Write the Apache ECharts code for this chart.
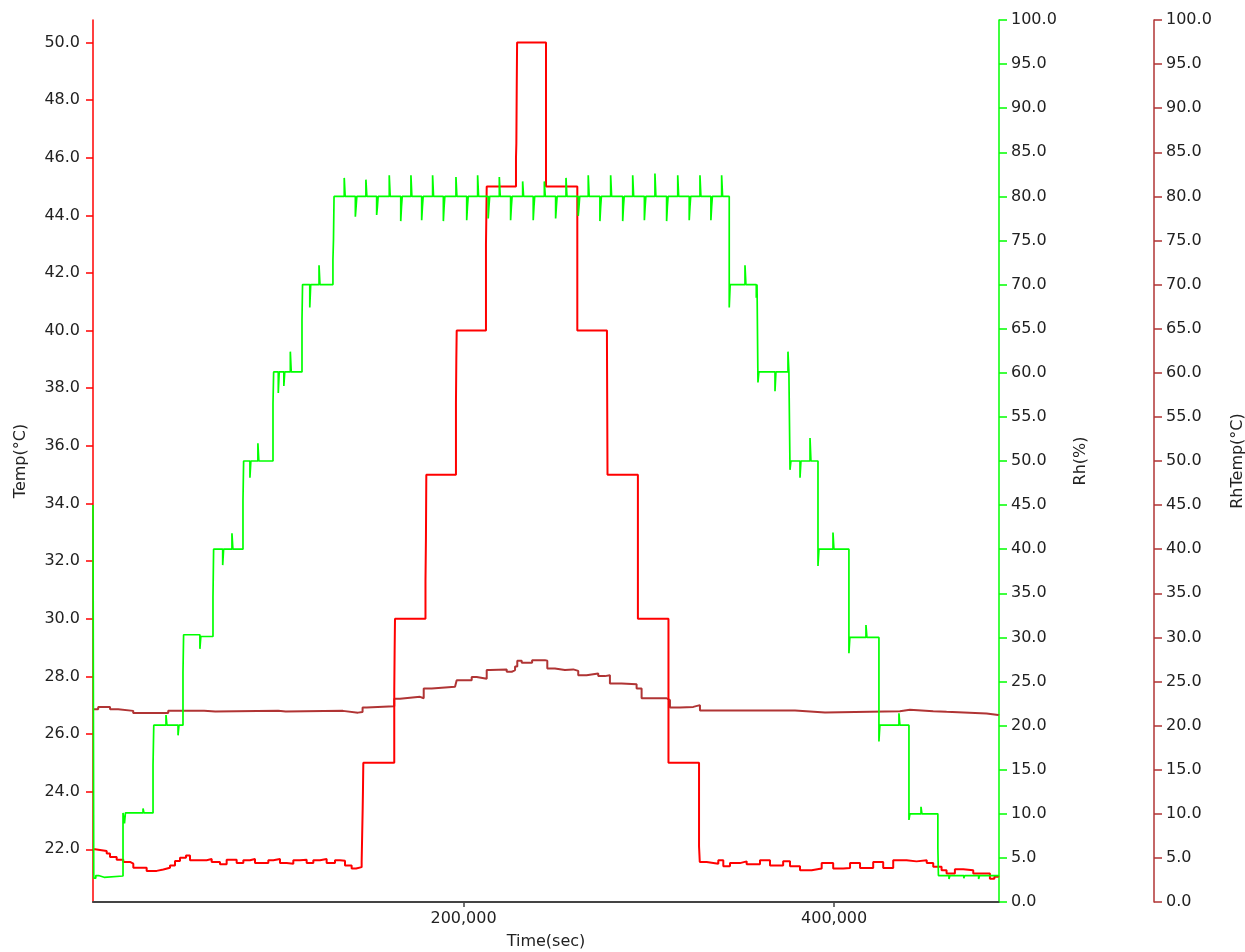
<!DOCTYPE html>
<html>
<head>
<meta charset="utf-8">
<script src="https://cdn.jsdelivr.net/npm/echarts@6.0.0/dist/echarts.min.js"></script>
<style>
  html, body { margin: 0; padding: 0; background: #ffffff; }
  #chart { width: 1245px; height: 952px; }
</style>
</head>
<body>
<div id="chart"></div>
<script>
// Chamber log: [time (s), value]; each value holds until the next sample.
const tempData = [
  [0, 22.0], [1080, 21.94], [7390, 21.85], [9170, 21.73], [12780, 21.64], [16370, 21.56],
  [19970, 21.5], [21760, 21.36], [28970, 21.25], [34370, 21.3], [37970, 21.36], [41560, 21.44],
  [44260, 21.59], [46950, 21.71], [50190, 21.78], [52350, 21.62], [61360, 21.66], [64060, 21.56],
  [68540, 21.48], [72140, 21.64], [77540, 21.52], [81140, 21.62], [84730, 21.66], [87430, 21.52],
  [94630, 21.62], [97330, 21.66], [100930, 21.52], [104530, 21.5], [108120, 21.62], [111720, 21.64],
  [115320, 21.52], [118920, 21.62], [122510, 21.66], [126110, 21.52], [130610, 21.62], [133310, 21.6],
  [136000, 21.44], [139600, 21.33], [142000, 21.38], [145000, 21.56],
  [145550, 23.4], [145700, 24.0], [145900, 25.0],
  [162600, 27.5], [162800, 28.9], [163000, 30.0],
  [179450, 31.3], [179700, 32.8], [179900, 35.0],
  [195900, 37.5], [196100, 39.0], [196300, 40.0],
  [212100, 43.0], [212300, 44.0], [212500, 45.0],
  [228300, 46.0], [228500, 46.5], [228700, 48.4], [228900, 50.0],
  [244500, 45.0],
  [261400, 40.0],
  [277400, 39.6], [277700, 35.0],
  [294100, 30.0],
  [310600, 25.0],
  [327100, 22.1], [327500, 21.56],
  [331200, 21.5], [337500, 21.62], [340200, 21.41], [343800, 21.52], [349200, 21.58], [352800, 21.48],
  [360000, 21.62], [365400, 21.44], [372500, 21.58], [376200, 21.41], [381600, 21.27], [387900, 21.33],
  [393300, 21.52], [399500, 21.33], [404900, 21.35], [408600, 21.52], [414000, 21.35], [421100, 21.56],
  [426500, 21.35], [431900, 21.62], [439100, 21.58], [444500, 21.62], [450000, 21.52], [453500, 21.39],
  [458000, 21.27], [460700, 21.16], [465200, 21.31], [469700, 21.27], [475100, 21.16], [480500, 21.16],
  [484100, 20.98], [486500, 21.05], [488600, 21.1]
];

const rhData = [
  [0, 45.0], [400, 2.7], [1500, 3.0], [3000, 2.8], [6000, 2.95],
  [16200, 10.1], [17000, 8.9], [17500, 10.1], [27000, 10.6], [27500, 10.1],
  [32400, 15.5], [32800, 20.05], [39400, 21.2], [39900, 20.05], [45900, 18.9], [46400, 20.05],
  [48570, 26.0], [48900, 30.3], [57700, 28.7], [58200, 30.1],
  [64760, 34.5], [65100, 40.0], [70000, 38.2], [70500, 40.0], [75000, 41.8], [75500, 40.0],
  [80950, 45.5], [81300, 50.0], [84700, 48.1], [85200, 50.0], [89000, 52.0], [89500, 50.0],
  [97150, 56.5], [97500, 60.1], [100000, 57.7], [100500, 60.1], [103000, 58.5], [103500, 60.1],
  [106500, 62.4], [107000, 60.1],
  [112800, 66.0], [113100, 70.0], [117000, 67.4], [117500, 70.0], [122000, 72.2], [122500, 70.0],
  [129500, 72.8], [129800, 75.1], [130100, 80.0],
  [135600, 82.1], [136100, 80.0], [141600, 77.7], [142000, 78.8], [142400, 80.0],
  [147300, 81.9], [147800, 80.0], [153100, 77.9], [153500, 78.8], [153900, 80.0],
  [159900, 82.4], [160400, 80.0], [166100, 77.2], [166500, 78.8], [166900, 80.0],
  [171600, 82.4], [172100, 80.0], [177400, 77.3], [177800, 78.8], [178200, 80.0],
  [183300, 82.4], [183800, 80.0], [189100, 77.2], [189500, 78.8], [189900, 80.0],
  [195900, 82.2], [196400, 80.0], [201700, 77.3], [202100, 78.8], [202500, 80.0],
  [207600, 82.4], [208100, 80.0], [213300, 77.5], [213700, 78.8], [214100, 80.0],
  [219300, 82.2], [219800, 80.0], [225400, 77.3], [225800, 78.8], [226200, 80.0],
  [231900, 81.7], [232400, 80.0], [237600, 77.3], [238000, 78.8], [238400, 80.0],
  [243600, 81.7], [244100, 80.0], [249700, 77.5], [250100, 78.8], [250500, 80.0],
  [255300, 82.1], [255800, 80.0], [261900, 77.8], [262300, 78.8], [262700, 80.0],
  [267300, 82.4], [267800, 80.0], [273600, 77.2], [274000, 78.8], [274400, 80.0],
  [279400, 82.4], [279900, 80.0], [285900, 77.2], [286300, 78.8], [286700, 80.0],
  [291300, 82.4], [291800, 80.0], [297600, 77.3], [298000, 78.8], [298400, 80.0],
  [303300, 82.6], [303800, 80.0], [309600, 77.2], [310000, 78.8], [310400, 80.0],
  [315600, 82.4], [316100, 80.0], [321800, 77.3], [322200, 78.8], [322600, 80.0],
  [327600, 82.4], [328100, 80.0], [333500, 77.3], [333900, 78.8], [334300, 80.0],
  [339300, 82.4], [339800, 80.0],
  [343400, 67.4], [343900, 70.0], [351900, 72.2], [352400, 70.0], [358000, 68.5], [358400, 70.0],
  [358900, 58.9], [359400, 60.1], [368100, 57.9], [368600, 60.1], [375100, 62.4], [375600, 60.1],
  [376200, 49.0], [376700, 50.0], [381600, 48.1], [382100, 50.0], [387000, 52.6], [387500, 50.0],
  [391300, 38.1], [391800, 40.0], [399400, 41.9], [399900, 40.0],
  [408000, 28.2], [408500, 30.0], [417200, 31.4], [417700, 30.0],
  [424200, 18.2], [424700, 20.05], [435000, 21.4], [435500, 20.05],
  [440400, 9.3], [440900, 10.0], [446900, 10.8], [447400, 10.0],
  [456000, 6.1], [456300, 3.0], [462000, 2.6], [462500, 3.0], [470000, 2.7], [470500, 3.0],
  [478000, 2.6], [478500, 3.0], [489000, 3.0]
];

const rhTempData = [
  [0, 21.85], [2800, 22.1], [9200, 21.85], [13600, 21.67], [21700, 21.44], [40600, 21.67],
  [60000, 21.6], [66000, 21.67], [100000, 21.6], [104000, 21.67],
  [134900, 21.47], [143000, 21.55], [145500, 22.05], [147700, 22.2],
  [162600, 23.05], [165700, 23.26], [176500, 23.1], [178500, 24.2], [182800, 24.4],
  [195400, 24.6], [196300, 25.15], [204400, 25.5], [207100, 25.3], [212500, 26.3], [214300, 26.37],
  [223300, 26.1], [226000, 26.3], [227800, 26.7], [229000, 27.35], [231400, 27.12], [237000, 27.42],
  [243900, 27.35], [245200, 26.48], [249300, 26.3], [254700, 26.37], [259200, 26.2], [261900, 25.72],
  [266400, 25.91], [272700, 25.61], [276300, 25.72], [279000, 24.78], [285300, 24.7], [293400, 24.21],
  [296100, 23.1], [309600, 22.88], [311400, 22.05], [316800, 22.12], [324000, 22.32], [327600, 21.7],
  [378900, 21.49], [395100, 21.64], [435500, 21.8], [440900, 21.64], [453500, 21.56], [460700, 21.37],
  [482300, 21.2], [488600, 21.3]
];

const timeTicks = [200000, 400000];
const tempTicks = [22, 24, 26, 28, 30, 32, 34, 36, 38, 40, 42, 44, 46, 48, 50];

const FONT = 'DejaVu Sans';
const TEXT = '#222222';
const RED = '#ff0000';
const GREEN = '#00ff00';
const BROWN = '#b03434';

const labelStyle = { fontFamily: FONT, fontSize: 16, color: TEXT };
const nameStyle = { fontFamily: FONT, fontSize: 16, color: TEXT };

function rightAxis(name, color, offset, gap) {
  return {
    type: 'value', position: 'right', offset: offset,
    min: 0, max: 100, interval: 5,
    name: name, nameLocation: 'middle', nameRotate: 90, nameGap: gap,
    nameTextStyle: nameStyle,
    axisLine: { show: true, onZero: false, lineStyle: { color: color, width: 1.5 } },
    axisTick: { show: true, inside: false, length: 8, lineStyle: { color: color, width: 1.5 } },
    axisLabel: Object.assign({ margin: 12, formatter: v => v.toFixed(1) }, labelStyle),
    splitLine: { show: false }
  };
}

const chart = echarts.init(document.getElementById('chart'), null, { renderer: 'canvas' });
chart.setOption({
  animation: false,
  backgroundColor: '#ffffff',
  grid: { left: 93, right: 246, top: 20, bottom: 50, containLabel: false, outerBoundsMode: 'none' },
  xAxis: {
    type: 'value', min: 0, max: 489000,
    name: 'Time(sec)', nameLocation: 'middle', nameGap: 32, nameTextStyle: nameStyle,
    axisLine: { show: true, onZero: false, lineStyle: { color: '#444444', width: 2 } },
    axisTick: { show: true, customValues: timeTicks, length: 5, lineStyle: { color: '#444444', width: 1.5 } },
    axisLabel: Object.assign({ customValues: timeTicks, margin: 9, formatter: v => v.toLocaleString('en-US') }, labelStyle),
    splitLine: { show: false }
  },
  yAxis: [
    {
      type: 'value', position: 'left', min: 20.17, max: 50.78,
      name: 'Temp(°C)', nameLocation: 'middle', nameRotate: 90, nameGap: 64,
      nameTextStyle: nameStyle,
      axisLine: { show: true, onZero: false, lineStyle: { color: RED, width: 1.5 } },
      axisTick: { show: true, customValues: tempTicks, length: 7, lineStyle: { color: RED, width: 1.5 } },
      axisLabel: Object.assign({ customValues: tempTicks, margin: 13, formatter: v => v.toFixed(1) }, labelStyle),
      splitLine: { show: false }
    },
    rightAxis('Rh(%)', GREEN, 0, 74),
    rightAxis('RhTemp(°C)', BROWN, 155, 76)
  ],
  series: [
    {
      name: 'RhTemp', type: 'line', yAxisIndex: 2, step: 'end', data: rhTempData,
      showSymbol: false, symbol: 'none', lineStyle: { color: BROWN, width: 2 }, z: 2
    },
    {
      name: 'Temp', type: 'line', yAxisIndex: 0, step: 'end', data: tempData,
      showSymbol: false, symbol: 'none', lineStyle: { color: RED, width: 2 }, z: 3
    },
    {
      name: 'Rh', type: 'line', yAxisIndex: 1, step: 'end', data: rhData,
      showSymbol: false, symbol: 'none', lineStyle: { color: GREEN, width: 1.7 }, z: 4
    }
  ]
});
</script>
</body>
</html>
